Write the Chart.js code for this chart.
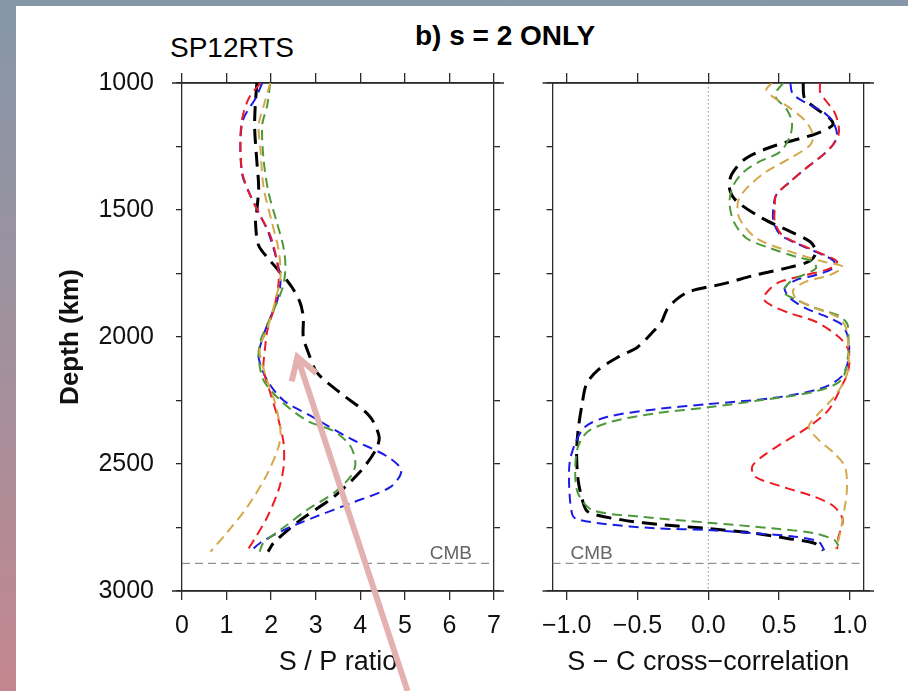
<!DOCTYPE html>
<html>
<head>
<meta charset="utf-8">
<script src="https://cdn.jsdelivr.net/npm/chart.js@4.4.1/dist/chart.umd.min.js"></script>
<style>
  html, body { margin: 0; padding: 0; }
  body {
    width: 908px; height: 691px; position: relative; overflow: hidden;
    background: linear-gradient(to bottom, #8597a8 0%, #a4909c 55%, #c4868f 100%);
  }
  #sheet { position: absolute; left: 16px; top: 6px; right: 0; bottom: 0; background: #fff; }
  canvas { position: absolute; top: 0; }
  #cLeft { left: 0; }
  #cRight { left: 530px; }
  .lbl { position: absolute; font-family: "Liberation Sans", Arial, sans-serif; color: #000; white-space: nowrap; line-height: 1; }
</style>
</head>
<body>
<div id="sheet"></div>
<div class="lbl" style="left:415px; top:22px; font-size:28px; font-weight:bold;">b) s = 2 ONLY</div>
<div class="lbl" style="left:170px; top:34px; font-size:28px;">SP12RTS</div>
<canvas id="cLeft" width="530" height="691"></canvas>
<canvas id="cRight" width="378" height="691"></canvas>

<script>
Chart.defaults.font.family = '"Liberation Sans", Arial, Helvetica, sans-serif';
Chart.defaults.color = '#000';

// axes
const depthMin = 1000, depthMax = 3000;
const depthStep = 250, depthLabelStep = 500;
const cmbDepth = 2891;
const spTicks = [0, 1, 2, 3, 4, 5, 6, 7];
const ccTicks = [-1, -0.5, 0, 0.5, 1];
const ccMin = -1.1, ccMax = 1.1;

// S / P ratio, [depth km, ratio]
const spBlack = [[1000,1.68],[1100,1.64],[1180,1.63],[1310,1.68],[1410,1.72],[1500,1.68],[1550,1.65],[1640,1.72],[1700,1.98],[1795,2.43],[1860,2.64],[1920,2.72],[2000,2.72],[2050,2.81],[2140,3.03],[2220,3.55],[2310,4.2],[2390,4.42],[2440,4.36],[2530,4.0],[2630,3.4],[2720,2.66],[2810,2.06],[2845,1.93]];
const spBlue = [[1000,1.80],[1060,1.65],[1140,1.38],[1230,1.31],[1360,1.35],[1430,1.50],[1510,1.72],[1590,1.94],[1700,2.13],[1780,2.21],[1860,2.13],[1940,1.94],[2020,1.78],[2080,1.72],[2170,1.91],[2250,2.28],[2310,2.88],[2400,3.78],[2470,4.60],[2525,4.92],[2590,4.68],[2655,3.78],[2710,2.96],[2760,2.28],[2810,1.76],[2845,1.53]];
const spRed = [[1000,1.76],[1060,1.50],[1140,1.35],[1230,1.31],[1350,1.35],[1430,1.50],[1510,1.72],[1600,1.98],[1700,2.13],[1780,2.17],[1890,2.06],[1970,1.92],[2050,1.86],[2130,1.83],[2220,1.98],[2330,2.17],[2420,2.28],[2510,2.28],[2600,2.17],[2710,1.91],[2800,1.61],[2845,1.45]];
const spGreen = [[1000,1.98],[1090,1.91],[1165,1.80],[1300,1.83],[1430,1.94],[1550,2.13],[1650,2.28],[1730,2.32],[1810,2.25],[1940,1.94],[2015,1.76],[2080,1.72],[2170,1.83],[2250,2.21],[2330,2.81],[2370,3.40],[2430,3.78],[2500,3.89],[2550,3.78],[2615,3.40],[2680,2.81],[2750,2.28],[2810,1.83],[2845,1.74]];
const spGold = [[1000,1.98],[1080,1.85],[1165,1.72],[1260,1.76],[1410,1.83],[1550,2.02],[1660,2.17],[1760,2.21],[1860,2.09],[1970,1.91],[2050,1.74],[2170,1.91],[2260,2.09],[2370,2.21],[2430,2.17],[2540,1.91],[2670,1.46],[2770,1.01],[2845,0.64]];

// S - C cross-correlation, [depth km, r]
const ccBlack = [[1000,0.67],[1060,0.68],[1100,0.76],[1140,0.86],[1165,0.88],[1200,0.76],[1245,0.48],[1295,0.27],[1360,0.165],[1415,0.15],[1465,0.20],[1535,0.39],[1585,0.58],[1625,0.72],[1665,0.76],[1700,0.72],[1725,0.58],[1755,0.34],[1790,0.11],[1820,-0.13],[1850,-0.22],[1890,-0.29],[1940,-0.33],[1985,-0.40],[2040,-0.50],[2080,-0.64],[2130,-0.78],[2185,-0.86],[2260,-0.89],[2370,-0.92],[2460,-0.93],[2560,-0.92],[2640,-0.89],[2688,-0.85],[2720,-0.61],[2740,-0.31],[2754,0],[2773,0.33],[2793,0.56],[2812,0.75],[2840,0.81]];
const ccBlue = [[1000,0.58],[1035,0.59],[1055,0.62],[1087,0.72],[1113,0.81],[1152,0.88],[1205,0.91],[1244,0.88],[1283,0.81],[1336,0.69],[1388,0.58],[1441,0.48],[1493,0.46],[1546,0.46],[1598,0.51],[1638,0.65],[1677,0.81],[1703,0.89],[1730,0.88],[1756,0.76],[1776,0.62],[1808,0.54],[1848,0.58],[1887,0.69],[1926,0.86],[1955,0.95],[2010,0.99],[2090,0.99],[2156,0.94],[2202,0.80],[2241,0.45],[2264,0],[2285,-0.38],[2314,-0.71],[2353,-0.87],[2419,-0.94],[2498,-0.98],[2616,-0.98],[2700,-0.96],[2717,-0.93],[2736,-0.73],[2753,-0.38],[2760,0],[2773,0.33],[2786,0.61],[2806,0.78],[2840,0.82]];
const ccRed = [[1000,0.79],[1035,0.79],[1073,0.835],[1113,0.89],[1165,0.92],[1205,0.92],[1244,0.88],[1283,0.81],[1336,0.69],[1388,0.58],[1441,0.48],[1493,0.47],[1546,0.47],[1598,0.52],[1638,0.66],[1677,0.82],[1703,0.91],[1730,0.86],[1756,0.69],[1782,0.51],[1808,0.44],[1848,0.39],[1874,0.44],[1907,0.58],[1940,0.76],[1999,0.92],[2051,0.99],[2130,0.99],[2196,0.94],[2287,0.85],[2353,0.71],[2419,0.52],[2471,0.38],[2510,0.31],[2550,0.33],[2589,0.52],[2629,0.75],[2668,0.89],[2720,0.95],[2786,0.92],[2835,0.91]];
const ccGreen = [[1000,0.53],[1035,0.48],[1060,0.48],[1100,0.55],[1152,0.59],[1205,0.58],[1270,0.51],[1310,0.36],[1350,0.25],[1400,0.18],[1467,0.15],[1546,0.18],[1611,0.27],[1651,0.44],[1684,0.62],[1703,0.74],[1730,0.76],[1756,0.67],[1782,0.58],[1822,0.53],[1848,0.60],[1887,0.76],[1913,0.91],[1946,0.98],[2000,0.99],[2064,0.99],[2169,0.94],[2215,0.75],[2248,0.38],[2277,0],[2301,-0.38],[2333,-0.68],[2372,-0.85],[2432,-0.92],[2524,-0.94],[2616,-0.92],[2681,-0.82],[2707,-0.49],[2731,0],[2753,0.45],[2773,0.75],[2799,0.89],[2822,0.92]];
const ccGold = [[1000,0.45],[1027,0.41],[1060,0.47],[1100,0.58],[1152,0.69],[1205,0.74],[1244,0.72],[1296,0.58],[1349,0.41],[1415,0.27],[1467,0.21],[1533,0.22],[1611,0.34],[1664,0.58],[1703,0.81],[1723,0.95],[1756,0.86],[1782,0.69],[1815,0.60],[1848,0.62],[1887,0.76],[1920,0.91],[1960,0.97],[2050,0.99],[2120,0.99],[2169,0.965],[2235,0.89],[2301,0.78],[2353,0.71],[2405,0.78],[2458,0.89],[2510,0.965],[2589,0.98],[2668,0.965],[2747,0.94],[2799,0.92],[2835,0.90]];

const frameColor = '#2a2a2a';
const colBlack = '#000000', colBlue = '#1c1ce6', colRed = '#ec1c24', colGreen = '#4e9a3a', colGold = '#d4a84c';

const toPts = arr => arr.map(([d, v]) => ({x: v, y: d}));

const line = (arr, color, heavy) => ({
  data: toPts(arr),
  showLine: true,
  borderColor: color,
  backgroundColor: color,
  borderWidth: heavy ? 3 : 2,
  borderDash: heavy ? [15, 8] : [10, 6],
  pointRadius: 0,
  tension: 0.3,
  fill: false
});

// extra bits: CMB line, zero line, wider top/bottom frame, arrow
const framePlugin = {
  id: 'frameExtras',
  beforeDatasetsDraw(chart, args, o) {
    const {ctx, chartArea: a, scales} = chart;
    const yc = scales.y.getPixelForValue(cmbDepth);
    ctx.save();
    ctx.lineWidth = 1;
    ctx.strokeStyle = '#777';
    ctx.setLineDash([8, 5]);
    ctx.beginPath(); ctx.moveTo(a.left, yc); ctx.lineTo(a.right, yc); ctx.stroke();
    if (o.zeroLine) {
      const x0 = scales.x.getPixelForValue(0);
      ctx.strokeStyle = '#8a8a8a';
      ctx.setLineDash([1.5, 2.5]);
      ctx.beginPath(); ctx.moveTo(x0, a.top); ctx.lineTo(x0, a.bottom); ctx.stroke();
    }
    ctx.setLineDash([]);
    ctx.fillStyle = '#666';
    ctx.font = '19px "Liberation Sans", Arial, sans-serif';
    ctx.textBaseline = 'alphabetic';
    ctx.textAlign = o.cmbAlign;
    ctx.fillText('CMB', o.cmbAlign === 'right' ? a.right - 22 : a.left + 18, yc - 4);
    ctx.strokeStyle = frameColor;
    ctx.lineWidth = 1.3;
    ctx.beginPath();
    ctx.moveTo(a.left - 10, a.top); ctx.lineTo(a.right + 10, a.top);
    ctx.moveTo(a.left - 10, a.bottom); ctx.lineTo(a.right + 10, a.bottom);
    ctx.stroke();
    ctx.restore();
  },
  afterDraw(chart, args, o) {
    if (!o.arrow) return;
    const {ctx, scales} = chart;
    const tx = scales.x.getPixelForValue(o.arrow.tip[0]), ty = scales.y.getPixelForValue(o.arrow.tip[1]);
    const bx = scales.x.getPixelForValue(o.arrow.tail[0]), by = scales.y.getPixelForValue(o.arrow.tail[1]);
    const ang = Math.atan2(ty - by, tx - bx);
    const h = 25, spread = 0.55;
    ctx.save();
    ctx.strokeStyle = '#e4b1b1';
    ctx.lineWidth = 6;
    ctx.lineJoin = 'miter';
    ctx.beginPath(); ctx.moveTo(bx, by); ctx.lineTo(tx, ty); ctx.stroke();
    ctx.beginPath();
    ctx.moveTo(tx - h * Math.cos(ang - spread), ty - h * Math.sin(ang - spread));
    ctx.lineTo(tx, ty);
    ctx.lineTo(tx - h * Math.cos(ang + spread), ty - h * Math.sin(ang + spread));
    ctx.stroke();
    ctx.restore();
  }
};

const gridOpt = len => ({display: true, drawOnChartArea: false, drawTicks: true, tickLength: len, color: frameColor, lineWidth: 1.3});
const borderOpt = {display: true, color: frameColor, width: 1.3};
const setTicks = vals => scale => { scale.ticks = vals.map(v => ({value: v})); };

const depthAxis = (pos, size, labels) => ({
  type: 'linear', position: pos, reverse: true, min: depthMin, max: depthMax,
  ticks: {
    display: labels, stepSize: depthStep, autoSkip: false, padding: 22,
    font: {size: 25}, color: '#111',
    callback: v => (v % depthLabelStep === 0 ? v : '')
  },
  grid: gridOpt(6), border: borderOpt,
  afterFit: s => { s.width = size; }
});

const valueAxis = (pos, size, min, max, vals, fmt, title) => ({
  type: 'linear', position: pos, min: min, max: max,
  afterBuildTicks: setTicks(vals),
  ticks: {display: pos === 'bottom', autoSkip: false, maxRotation: 0, padding: 11, font: {size: 25}, color: '#111', callback: fmt},
  grid: gridOpt(pos === 'bottom' ? 9 : 10), border: borderOpt,
  title: title ? {display: true, text: title, font: {size: 27}, color: '#111', padding: {top: 0, bottom: 12}} : {display: false},
  afterFit: s => { s.height = size; }
});

const ccFmt = v => (v < 0 ? '\u2212' : '') + Math.abs(v).toFixed(1);

const leftY = depthAxis('left', 182, true);
leftY.title = {display: true, text: 'Depth (km)', font: {size: 26, weight: 'bold'}, color: '#111', padding: {top: 55, bottom: 0}};

new Chart(document.getElementById('cLeft'), {
  type: 'scatter',
  data: {datasets: [
    line(spGold, colGold), line(spGreen, colGreen), line(spRed, colRed), line(spBlue, colBlue), line(spBlack, colBlack, true)
  ]},
  options: {
    responsive: false, animation: false,
    layout: {padding: 0},
    plugins: {
      legend: {display: false}, tooltip: {enabled: false},
      frameExtras: {cmbAlign: 'right', zeroLine: false, arrow: {tip: [2.59, 2079], tail: [5.06, 3394]}}
    },
    scales: {
      x: valueAxis('bottom', 100, 0, 7, spTicks, v => v, 'S / P ratio'),
      x2: valueAxis('top', 83, 0, 7, spTicks, v => v, null),
      y: leftY,
      y2: depthAxis('right', 36, false)
    }
  },
  plugins: [framePlugin]
});

new Chart(document.getElementById('cRight'), {
  type: 'scatter',
  data: {datasets: [
    line(ccGold, colGold), line(ccGreen, colGreen), line(ccRed, colRed), line(ccBlue, colBlue), line(ccBlack, colBlack, true)
  ]},
  options: {
    responsive: false, animation: false,
    layout: {padding: 0},
    plugins: {
      legend: {display: false}, tooltip: {enabled: false},
      frameExtras: {cmbAlign: 'left', zeroLine: true}
    },
    scales: {
      x: valueAxis('bottom', 100, ccMin, ccMax, ccTicks, ccFmt, 'S \u2212 C cross\u2212correlation'),
      x2: valueAxis('top', 83, ccMin, ccMax, ccTicks, ccFmt, null),
      y: depthAxis('left', 22, false),
      y2: depthAxis('right', 44, false)
    }
  },
  plugins: [framePlugin]
});
</script>
</body>
</html>
